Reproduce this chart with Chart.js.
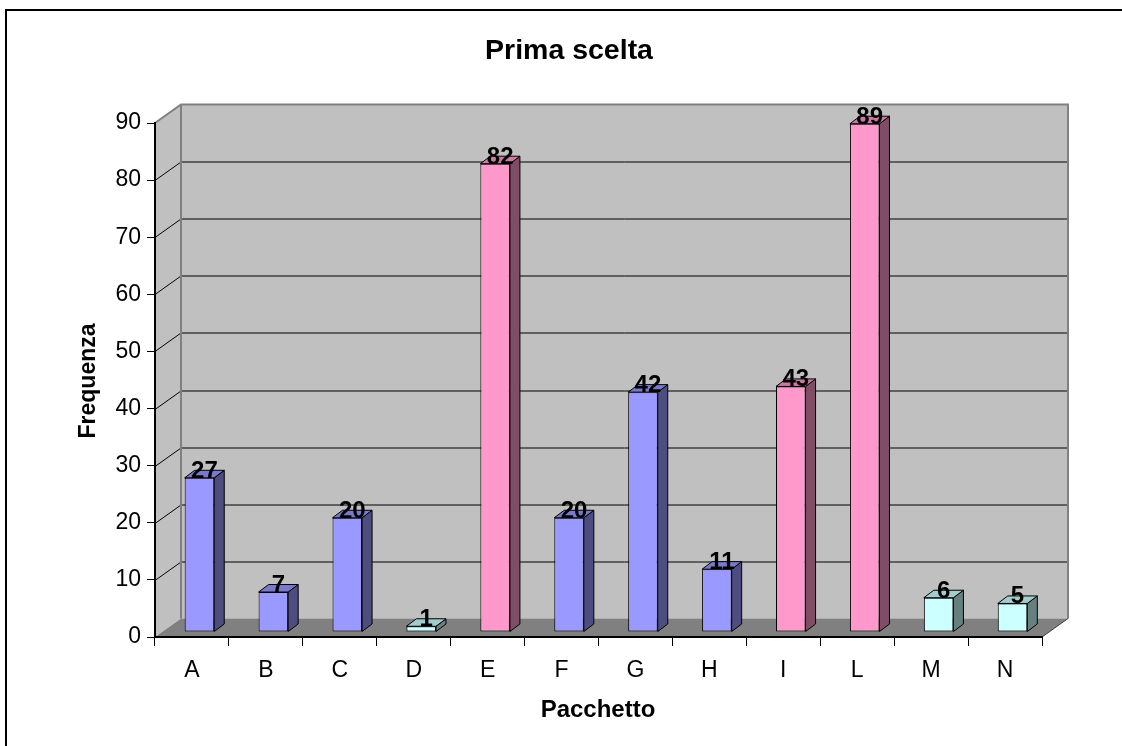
<!DOCTYPE html>
<html>
<head>
<meta charset="utf-8">
<title>Prima scelta</title>
<style>
  html, body { margin: 0; padding: 0; background: #fff; }
  #wrap { width: 1122px; height: 746px; position: relative; }
  canvas { display: block; }
</style>
<script src="https://cdn.jsdelivr.net/npm/chart.js@4/dist/chart.umd.min.js"></script>
</head>
<body>
<div id="wrap"><canvas id="chart" width="1122" height="746"></canvas></div>
<script>
// ---- data ----
const categories  = ['A', 'B', 'C', 'D', 'E', 'F', 'G', 'H', 'I', 'L', 'M', 'N'];
const frequencies = [27, 7, 20, 1, 82, 20, 42, 11, 43, 89, 6, 5];
// colour group of each package: 0 = blue, 1 = pink, 2 = cyan
const groups      = [0, 0, 0, 2, 1, 0, 0, 0, 1, 1, 2, 2];
const yTickValues = [0, 10, 20, 30, 40, 50, 60, 70, 80, 90];

const chartTitle = 'Prima scelta';
const xTitle = 'Pacchetto';
const yTitle = 'Frequenza';

// ---- styling ----
const palette = [
  { front: '#9999FF', side: '#4D4D80', top: '#7A7ACC' },
  { front: '#FF99CC', side: '#804D66', top: '#CC7AA3' },
  { front: '#CCFFFF', side: '#668080', top: '#A3CCCC' }
];
const FONT = '"Liberation Sans", Arial, Helvetica, sans-serif';
const WALL = { dx: 26, dy: -18.5 };               // depth of the box (walls + floor)
const BAR  = { ox: 7.5, oy: -5, dx: 10, dy: -7.5 }; // bar front offset and bar depth

function poly(ctx, pts, fill, stroke, lw) {
  ctx.beginPath();
  ctx.moveTo(pts[0][0], pts[0][1]);
  for (let i = 1; i < pts.length; i++) ctx.lineTo(pts[i][0], pts[i][1]);
  ctx.closePath();
  if (fill) { ctx.fillStyle = fill; ctx.fill(); }
  if (stroke) { ctx.strokeStyle = stroke; ctx.lineWidth = lw || 1; ctx.stroke(); }
}

// Walls, floor and wall gridlines behind the bars
const box3d = {
  id: 'box3d',
  beforeDraw(chart) {
    const { ctx, chartArea: a, scales: { y } } = chart;
    const L = a.left, R = a.right, T = a.top, B = a.bottom;
    const dx = WALL.dx, dy = WALL.dy;
    ctx.save();
    ctx.fillStyle = '#fff';
    ctx.fillRect(0, 0, chart.width, chart.height);

    // outer frame
    ctx.fillStyle = '#000';
    ctx.fillRect(5, 9, 2, chart.height - 9);
    ctx.fillRect(5, 9, chart.width - 5, 2);

    // side wall, back wall, floor
    poly(ctx, [[L, T], [L + dx, T + dy], [L + dx, B + dy], [L, B]], '#C0C0C0');
    ctx.fillStyle = '#C0C0C0';
    ctx.fillRect(L + dx, T + dy, R - L, B - T);
    poly(ctx, [[L, B], [L + dx, B + dy], [R + dx, B + dy], [R, B]], '#808080');

    // gridlines on side and back wall
    ctx.strokeStyle = '#000';
    ctx.lineWidth = 1;
    yTickValues.forEach(v => {
      if (v === y.min || v === y.max) return;
      const py = Math.round(y.getPixelForValue(v)) + 0.5;
      ctx.beginPath();
      ctx.moveTo(L, py);
      ctx.lineTo(L + dx, py + dy);
      ctx.lineTo(R + dx, py + dy);
      ctx.stroke();
    });

    // wall edges
    ctx.strokeStyle = '#808080';
    ctx.lineWidth = 2;
    ctx.beginPath();
    ctx.moveTo(L, T);
    ctx.lineTo(L + dx, T + dy);
    ctx.lineTo(R + dx, T + dy);
    ctx.lineTo(R + dx, B + dy);
    ctx.moveTo(L + dx, T + dy);
    ctx.lineTo(L + dx, B + dy);
    ctx.stroke();
    ctx.strokeStyle = '#404040';
    ctx.lineWidth = 1;
    ctx.beginPath();
    ctx.moveTo(R, B);
    ctx.lineTo(R + dx, B + dy);
    ctx.stroke();
    ctx.restore();
  },
  afterDraw(chart) {
    const { ctx } = chart;
    ctx.save();
    ctx.fillStyle = '#000';
    ctx.textAlign = 'center';
    ctx.textBaseline = 'alphabetic';
    ctx.font = 'bold 28.5px ' + FONT;
    ctx.fillText(chartTitle, 569, 58.5);
    ctx.font = 'bold 24px ' + FONT;
    ctx.fillText(xTitle, 598, 717);
    ctx.font = 'bold 23px ' + FONT;
    ctx.translate(95, 381);
    ctx.rotate(-Math.PI / 2);
    ctx.fillText(yTitle, 0, 0);
    ctx.restore();
  }
};

// Bars sit in the middle of the depth: shift the fronts, then add side and top faces
const bars3d = {
  id: 'bars3d',
  beforeDatasetsDraw(chart) {
    chart.ctx.save();
    chart.ctx.translate(BAR.ox, BAR.oy);
  },
  afterDatasetsDraw(chart) {
    const ctx = chart.ctx;
    const meta = chart.getDatasetMeta(0);
    meta.data.forEach((bar, i) => {
      const { x, y, base, width } = bar.getProps(['x', 'y', 'base', 'width'], true);
      const c = palette[groups[i]];
      const l = x - width / 2, r = x + width / 2;
      ctx.lineJoin = 'miter';
      poly(ctx, [[r, y], [r + BAR.dx, y + BAR.dy], [r + BAR.dx, base + BAR.dy], [r, base]], c.side, '#000', 1);
      poly(ctx, [[l, y], [l + BAR.dx, y + BAR.dy], [r + BAR.dx, y + BAR.dy], [r, y]], c.top, '#000', 1);
    });
    ctx.restore();

    // value labels above each bar
    ctx.save();
    ctx.fillStyle = '#000';
    ctx.font = 'bold 24px ' + FONT;
    ctx.textAlign = 'center';
    ctx.textBaseline = 'alphabetic';
    meta.data.forEach((bar, i) => {
      const { x, y } = bar.getProps(['x', 'y'], true);
      ctx.fillText(String(frequencies[i]), x + BAR.ox + BAR.dx / 2, y + BAR.oy);
    });
    ctx.restore();
  }
};

new Chart(document.getElementById('chart'), {
  type: 'bar',
  data: {
    labels: categories,
    datasets: [{
      data: frequencies,
      backgroundColor: groups.map(g => palette[g].front),
      borderColor: '#000',
      borderWidth: 1,
      borderSkipped: false,
      categoryPercentage: 1,
      barPercentage: 0.4,
      clip: false
    }]
  },
  options: {
    responsive: false,
    animation: false,
    devicePixelRatio: 1,
    layout: { padding: { top: 123, right: 80, bottom: 0, left: 0 } },
    plugins: { legend: { display: false }, tooltip: { enabled: false }, title: { display: false } },
    scales: {
      x: {
        offset: true,
        grid: { display: true, offset: true, drawOnChartArea: false, drawTicks: true, tickLength: 9, color: '#000', lineWidth: 1 },
        border: { display: true, color: '#000', width: 2 },
        ticks: { color: '#000', font: { family: FONT, size: 23 }, padding: 11, maxRotation: 0, autoSkip: false },
        afterFit(scale) { scale.height = 109; }
      },
      y: {
        min: 0,
        max: 90,
        afterBuildTicks(scale) { scale.ticks = yTickValues.map(v => ({ value: v })); },
        grid: { display: true, drawOnChartArea: false, drawTicks: true, tickLength: 8, color: '#000', lineWidth: 1 },
        border: { display: true, color: '#000', width: 2 },
        ticks: { color: '#000', font: { family: FONT, size: 23 }, padding: 6 },
        afterFit(scale) { scale.width = 155; }
      }
    }
  },
  plugins: [box3d, bars3d]
});
</script>
</body>
</html>
